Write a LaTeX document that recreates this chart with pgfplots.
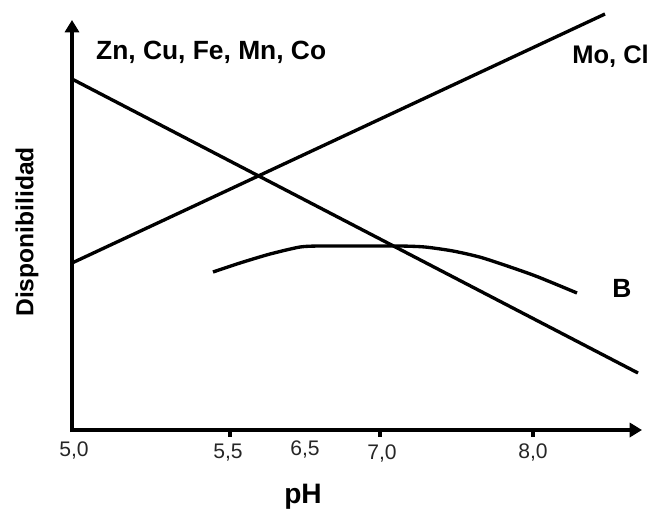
\documentclass[border=0pt]{standalone}
\usepackage{pgfplots}
\pgfplotsset{compat=1.18}
\usepackage{fontspec}
\setmainfont{Liberation Sans}
\usetikzlibrary{arrows.meta}
\begin{document}
\begin{tikzpicture}
\begin{axis}[
  width=13.12cm, height=10.26cm, scale only axis,
  xmin=0, xmax=656, ymin=0, ymax=513, y dir=reverse,
  hide axis, clip=false, xtick=\empty, ytick=\empty,
  every axis plot/.append style={black},
]
\coordinate (BBa) at (rel axis cs:0,0);
\coordinate (BBb) at (rel axis cs:1,1);
% axes
\addplot[line width=2.6pt, -{Triangle[length=7pt,width=8pt]}] coordinates {(72,432) (72,20)};
\addplot[line width=2.6pt, -{Triangle[length=7pt,width=8pt]}] coordinates {(70,430) (642,430)};
% ticks
\addplot[line width=1.8pt] coordinates {(230,430) (230,437)};
\addplot[line width=1.8pt] coordinates {(380,430) (380,437)};
\addplot[line width=1.8pt] coordinates {(533,430) (533,437)};
% Zn, Cu, Fe, Mn, Co (decreasing)
\addplot[line width=1.9pt] coordinates {(72,79) (638,373)};
% Mo, Cl (increasing)
\addplot[line width=1.9pt] coordinates {(72,263) (605,14)};
% B
\addplot[line width=1.9pt, smooth, tension=0.4] coordinates {
  (213,272) (240,263) (270,254) (300,247) (320,246) (360,246) (400,246)
  (425,247) (453,251) (483,258) (533,275) (577,293)};
% labels
\node[anchor=west, font=\fontsize{15}{18}\selectfont\bfseries] at (axis cs:90,52) {Zn, Cu, Fe, Mn, Co};
\node[anchor=east, font=\fontsize{14.5}{18}\selectfont\bfseries] at (axis cs:655,56) {Mo, Cl};
\node[font=\fontsize{15}{18}\selectfont\bfseries] at (axis cs:622,288) {B};
\node[rotate=90, font=\fontsize{14}{18}\selectfont\bfseries] at (axis cs:27,232) {Disponibilidad};
\node[font=\fontsize{16}{18}\selectfont\bfseries] at (axis cs:303,497) {pH};
% tick labels
\node[font=\fontsize{12}{14}\selectfont, text=black!85] at (axis cs:74,450) {5,0};
\node[font=\fontsize{12}{14}\selectfont, text=black!85] at (axis cs:228,453) {5,5};
\node[font=\fontsize{12}{14}\selectfont, text=black!85] at (axis cs:305,449) {6,5};
\node[font=\fontsize{12}{14}\selectfont, text=black!85] at (axis cs:382,453) {7,0};
\node[font=\fontsize{12}{14}\selectfont, text=black!85] at (axis cs:533,452) {8,0};
\end{axis}
\pgfresetboundingbox
\path (BBa) rectangle (BBb);
\end{tikzpicture}
\end{document}
